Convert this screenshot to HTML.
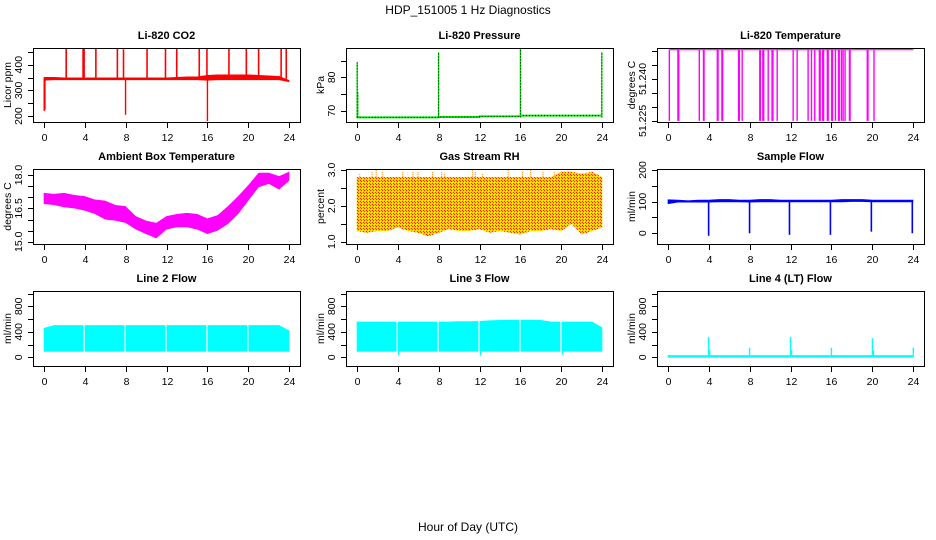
<!DOCTYPE html>
<html><head><meta charset="utf-8"><style>
html,body{margin:0;padding:0;background:#fff;}
svg{display:block;font-family:"Liberation Sans",sans-serif;}
</style></head><body>
<svg id="c" width="936" height="540" viewBox="0 0 936 540">
<defs>
<pattern id="rhpat" width="3" height="3" patternUnits="userSpaceOnUse">
<rect width="3" height="3" fill="#ffcc00"/><rect width="1" height="1" fill="#ff2000"/><rect x="1" y="1" width="1" height="1" fill="#ff2000"/><rect x="2" y="2" width="1" height="1" fill="#ffff00"/>
</pattern>
</defs>
<text x="468" y="14" text-anchor="middle" font-size="12">HDP_151005  1 Hz Diagnostics</text>
<text x="468" y="531" text-anchor="middle" font-size="12">Hour of Day (UTC)</text>
</svg>
<script>
// ---- data ----
const xTicks = [0,4,8,12,16,20,24];
const hours = [0,1,2,3,4,5,6,7,8,9,10,11,12,13,14,15,16,17,18,19,20,21,22,23,24];
// CO2
const co2Lo = [338,340,340,340,340,340,340,340,340,340,340,340,340,340,340,340,338,340,340,340,340,340,340,340,332];
const co2Hi = [352,352,350,350,350,350,350,350,350,350,350,350,350,352,354,354,360,362,362,362,362,360,358,356,340];
const co2SpikeH = [2.2,3.85,3.95,5.1,7.2,7.8,10.1,11.9,13.0,15.2,15.95,18.1,19.8,21.0,23.2,23.7];
const co2SpikeV = [465,465,465,465,465,460,465,465,465,465,465,465,465,465,465,465];
const co2DipH = [0.05,0.12,8.0,16.0];
const co2DipV = [220,225,205,180];
// Pressure
const presH = [0,8,8,12,12,16,16,24];
const presV = [68.0,68.0,68.1,68.1,68.3,68.3,68.5,68.5];
const presSpikeH = [0.05,0.1,8.0,16.0,23.95];
const presSpikeV = [84.5,75.5,87.5,88.8,87.5];
// Li-820 temperature
const tempTop = 51.2505;
const tempDipH = [0.16,1.0,1.08,3.09,3.5,3.55,4.85,4.92,5.3,5.37,6.93,7.0,7.28,9.0,9.05,9.3,9.38,9.82,10.2,10.28,10.7,12.26,12.65,13.72,14.05,14.37,14.82,14.9,15.15,15.23,15.6,15.68,16.03,16.1,16.39,16.7,16.76,16.98,17.14,17.33,17.76,17.82,19.5,19.57,20.16];
const tempDipV = 51.225;
// Ambient box temperature
const ambLo = [16.7,16.65,16.55,16.5,16.4,16.25,16.0,15.95,15.85,15.55,15.35,15.15,15.55,15.65,15.65,15.55,15.35,15.5,15.8,16.25,16.85,17.45,17.6,17.35,17.75];
const ambHi = [17.2,17.15,17.2,17.1,17.05,16.9,16.85,16.65,16.6,16.15,15.95,15.85,16.15,16.25,16.3,16.25,16.05,16.2,16.6,17.05,17.55,18.1,18.1,17.95,18.15];
// Gas stream RH
const rhTop = [2.8,2.8,2.8,2.8,2.8,2.8,2.8,2.8,2.8,2.8,2.8,2.8,2.8,2.8,2.8,2.8,2.8,2.8,2.8,2.8,2.95,2.95,2.9,2.95,2.8];
const rhBot = [1.3,1.25,1.3,1.3,1.4,1.3,1.25,1.15,1.25,1.35,1.3,1.3,1.35,1.25,1.3,1.25,1.2,1.3,1.3,1.35,1.3,1.5,1.2,1.3,1.4];
const rhSpikeH = [0.3,1.5,1.9,2.5,4.5,5.5,6.0,7.4,8.3,8.6,11.3,11.6,12.3,14.8,16.2,17.0,18.2,19.3];
const rhSpikeV = [2.9,2.95,3.0,2.95,2.95,2.95,2.95,2.95,2.95,2.9,3.0,2.95,2.9,3.0,2.95,3.0,2.95,2.95];
// Sample flow
const sfLo = [92,97,97,97,97,98,98,98,97,98,98,98,98,98,98,98,98,98,99,99,98,98,98,98,98];
const sfHi = [107,106,104,106,106,108,108,106,106,108,108,106,106,106,106,106,106,108,108,108,106,106,106,106,106];
const sfDipH = [4.0,8.0,11.9,15.9,19.9,23.9];
const sfDipV = [-8,0,-5,-5,5,0];
// Line 2 / 3 / 4 flows
const l2Lo = 90;
const l2Hi = [460,505,505,505,505,505,505,505,505,505,505,505,505,505,505,505,505,505,505,505,505,505,505,505,420];
const l3Lo = 90;
const l3Hi = [560,560,560,560,560,560,560,560,560,560,565,565,570,580,585,590,590,590,585,560,560,560,560,560,470];
const gapH = [3.95,7.95,11.95,15.95,19.95];
const l3DipH = [4.1,12.1,20.1];
const l3DipV = [30,30,40];
const l4Base = 15;
const l4SpikeH = [4.0,4.1,8.0,12.0,12.1,16.0,20.0,20.1,24.0];
const l4SpikeV = [320,110,150,320,110,150,300,110,150];

// ---- layout ----
const NS = 'http://www.w3.org/2000/svg';
const svg = document.getElementById('c');
const cols = [[33,300],[346,613],[657,924]];
const rows = [[48,122],[169,244],[291,366]];
function mk(tag, attrs, parent){
  const e = document.createElementNS(NS, tag);
  for (const k in attrs) e.setAttribute(k, attrs[k]);
  (parent||svg).appendChild(e);
  return e;
}
function panel(ci, ri, name, title, ytitle, lo, hi, yticks, ylabels, fmt){
  const L = cols[ci][0], R = cols[ci][1], T = rows[ri][0], B = rows[ri][1];
  const g = mk('g', {});
  
  
  const xs = h => L + (R-L)*(0.04 + 0.92*h/24);
  const ys = v => B - (v-lo)/(hi-lo)*(B-T);
  const clip = mk('clipPath', {id:'clip'+name}, g);
  mk('rect', {x:L, y:T, width:R-L, height:B-T}, clip);
  const plot = mk('g', {'clip-path':'url(#clip'+name+')'}, g);
  
  
  const box = mk('rect', {x:L+0.5, y:T+0.5, width:R-L, height:B-T, fill:'none', stroke:'#000', 'stroke-width':1}, g);
  
  
  const t = mk('text', {x:(L+R)/2, y:T-9, 'text-anchor':'middle', 'font-size':11, 'font-weight':'bold'}, g);
  t.textContent = title;
  
  
  const yt = mk('text', {transform:'translate('+(L-22)+','+((T+B)/2)+') rotate(-90)', 'text-anchor':'middle', 'font-size':10.5}, g);
  yt.textContent = ytitle;
  
  
  yticks.forEach(v => {
    const y = Math.round(ys(v))+0.5;
    mk('line', {x1:L-5, x2:L, y1:y, y2:y, stroke:'#000'}, g);
  });
  ylabels.forEach(v => {
    const y = ys(v);
    const tl = mk('text', {transform:'translate('+(L-11)+','+y+') rotate(-90)', 'text-anchor':'middle', 'font-size':10.5}, g);
    tl.textContent = fmt(v);
    
    
  });
  xTicks.forEach(h => {
    const x = Math.round(xs(h))+0.5;
    mk('line', {x1:x, x2:x, y1:B, y2:B+6, stroke:'#000'}, g);
    const tl = mk('text', {x:x, y:B+19, 'text-anchor':'middle', 'font-size':10.5}, g);
    tl.textContent = h;
    
    
  });
  return {g:plot, xs, ys};
}
function band(p, lo, hi, fill, name){
  let pts = [];
  hours.forEach((h,i) => pts.push(p.xs(h)+','+p.ys(Array.isArray(hi)?hi[i]:hi)));
  for (let i=hours.length-1;i>=0;i--) pts.push(p.xs(hours[i])+','+p.ys(Array.isArray(lo)?lo[i]:lo));
  const e = mk('polygon', {points:pts.join(' '), fill:fill}, p.g);
  
  
  return e;
}
function vline(p, h, v1, v2, color, w, name, dash){
  const e = mk('line', {x1:p.xs(h), x2:p.xs(h), y1:p.ys(v1), y2:p.ys(v2), stroke:color, 'stroke-width':w}, p.g);
  if (dash) e.setAttribute('stroke-dasharray', dash);
  
  
  return e;
}
const f0 = v => String(v), f1 = v => v.toFixed(1), f3 = v => v.toFixed(3);

// CO2
let p = panel(0,0,'co2','Li-820 CO2','Licor ppm',177,465,[200,250,300,350,400,450],[200,300,400],f0);
band(p, co2Lo, co2Hi, '#ff0000', 'co2-series');
co2SpikeH.forEach((h,i) => vline(p, h, 345, co2SpikeV[i], '#ff0000', 1.6, 'co2-spike'));
co2DipH.forEach((h,i) => vline(p, h, 345, co2DipV[i], '#ff0000', 1.4, 'co2-dip'));

// Pressure
p = panel(1,0,'pressure','Li-820 Pressure','kPa',66.6,88.8,[70,75,80,85],[70,80],f0);
{
  const pts = presH.map((h,i) => p.xs(h)+','+p.ys(presV[i])).join(' ');
  const g1 = mk('polyline', {points:pts, fill:'none', stroke:'#00ee00', 'stroke-width':2}, p.g);
  
  
  const g2 = mk('polyline', {points:pts, fill:'none', stroke:'#000', 'stroke-width':1, 'stroke-dasharray':'1,2'}, p.g);
  
  
  presSpikeH.forEach((h,i) => {
    vline(p, h, 68.0, presSpikeV[i], '#00ee00', 1.4, 'pressure-spike');
    vline(p, h, 68.0, presSpikeV[i], '#000', 1, 'pressure-spike-dots', '1,2');
  });
}

// Temperature
p = panel(2,0,'li820-temp','Li-820 Temperature','degrees C',51.2246,51.2511,[51.225,51.230,51.235,51.240,51.245,51.250],[51.225,51.240],f3);
{
  const e = mk('line', {x1:p.xs(0.15), x2:p.xs(24), y1:p.ys(tempTop), y2:p.ys(tempTop), stroke:'#ff00ff', 'stroke-width':1.2}, p.g);
  
  
  tempDipH.forEach(h => vline(p, h, tempTop, tempDipV, '#ff00ff', 1.4, 'li820-temp-dip'));
}

// Ambient
p = panel(0,1,'ambient','Ambient Box Temperature','degrees C',14.9,18.27,[15,15.5,16,16.5,17,17.5,18],[15,16.5,18],f1);
band(p, ambLo, ambHi, '#ff00ff', 'ambient-series');

// RH
p = panel(1,1,'rh','Gas Stream RH','percent',0.936,3.028,[1,1.5,2,2.5,3],[1,2,3],f1);
band(p, rhBot, rhTop, 'url(#rhpat)', 'rh-series');
rhSpikeH.forEach((h,i) => vline(p, h, 2.8, rhSpikeV[i], '#ff8000', 1, 'rh-spike', '1,1'));

// Sample flow
p = panel(2,1,'sample-flow','Sample Flow','ml/min',-34,203,[0,50,100,150,200],[0,100,200],f0);
band(p, sfLo, sfHi, '#0000ff', 'sample-flow-series');
sfDipH.forEach((h,i) => vline(p, h, 100, sfDipV[i], '#0000ff', 1.6, 'sample-flow-dip'));

// Line 2
p = panel(0,2,'line2','Line 2 Flow','ml/min',-136,1040,[0,200,400,600,800,1000],[0,400,800],f0);
band(p, l2Lo, l2Hi, '#00ffff', 'line2-series');
gapH.forEach(h => vline(p, h, l2Lo, 520, '#ffffff', 1.2, 'line2-gap'));

// Line 3
p = panel(1,2,'line3','Line 3 Flow','ml/min',-136,1040,[0,200,400,600,800,1000],[0,400,800],f0);
band(p, l3Lo, l3Hi, '#00ffff', 'line3-series');
gapH.forEach(h => vline(p, h, l3Lo, 600, '#ffffff', 1.2, 'line3-gap'));
l3DipH.forEach((h,i) => vline(p, h, 200, l3DipV[i], '#00ffff', 1.2, 'line3-dip'));

// Line 4
p = panel(2,2,'line4','Line 4 (LT) Flow','ml/min',-136,1040,[0,200,400,600,800,1000],[0,400,800],f0);
{
  const e = mk('line', {x1:p.xs(0), x2:p.xs(24), y1:p.ys(l4Base), y2:p.ys(l4Base), stroke:'#00ffff', 'stroke-width':2.5}, p.g);
  
  
  l4SpikeH.forEach((h,i) => vline(p, h, l4Base, l4SpikeV[i], '#00ffff', 1.4, 'line4-spike'));
}
</script>
</body></html>
